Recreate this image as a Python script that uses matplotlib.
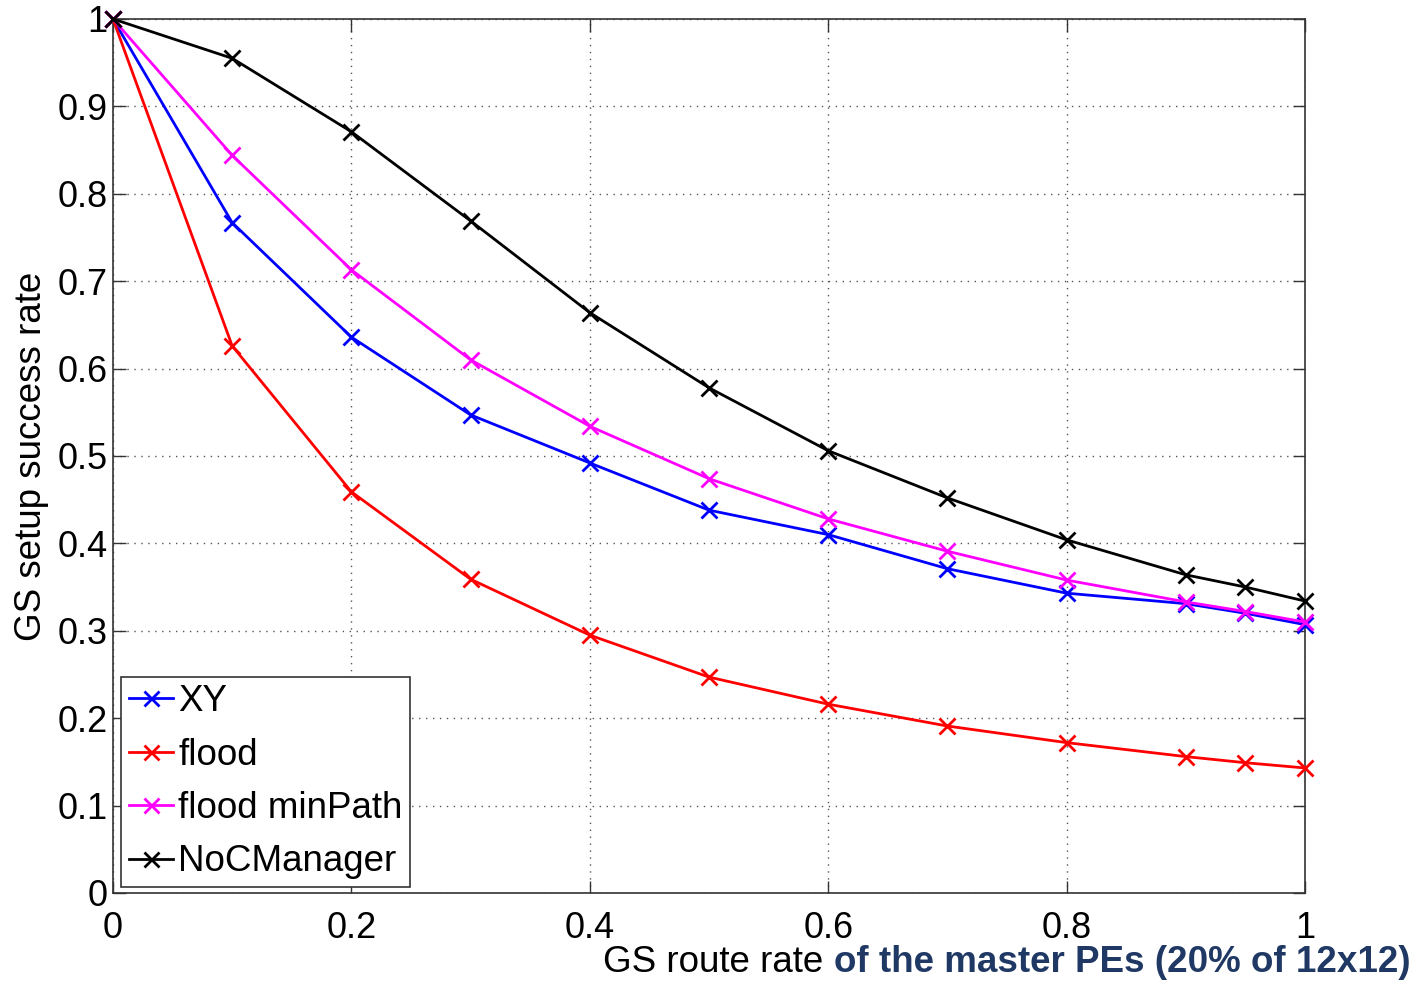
import matplotlib
matplotlib.use("Agg")
import matplotlib.pyplot as plt

# Route rate samples and setup success rates per routing scheme
route_rate = [0, 0.1, 0.2, 0.3, 0.4, 0.5, 0.6, 0.7, 0.8, 0.9, 0.95, 1.0]
xy_rate = [1.0, 0.767, 0.636, 0.547, 0.492, 0.438, 0.410, 0.371, 0.343, 0.331, 0.320, 0.307]
flood_rate = [1.0, 0.626, 0.459, 0.359, 0.295, 0.247, 0.216, 0.191, 0.172, 0.156, 0.149, 0.143]
flood_minpath_rate = [1.0, 0.844, 0.713, 0.610, 0.534, 0.474, 0.428, 0.391, 0.358, 0.333, 0.322, 0.310]
nocmanager_rate = [1.0, 0.955, 0.871, 0.769, 0.664, 0.578, 0.506, 0.452, 0.404, 0.364, 0.350, 0.334]

series_names = ["XY", "flood", "flood minPath", "NoCManager"]
series_colors = ["#0000ff", "#ff0000", "#ff00ff", "#000000"]

x_ticks = [0, 0.2, 0.4, 0.6, 0.8, 1]
x_tick_labels = ["0", "0.2", "0.4", "0.6", "0.8", "1"]
y_ticks = [0, 0.1, 0.2, 0.3, 0.4, 0.5, 0.6, 0.7, 0.8, 0.9, 1]
y_tick_labels = ["0", "0.1", "0.2", "0.3", "0.4", "0.5", "0.6", "0.7", "0.8", "0.9", "1"]

plt.rcParams["font.family"] = ["Liberation Sans", "DejaVu Sans"]

fig = plt.figure(figsize=(14.19, 9.83), dpi=100)
ax = fig.add_axes([0.0796, 0.0916, 0.8401, 0.8891])

for vals, name, col in zip([xy_rate, flood_rate, flood_minpath_rate, nocmanager_rate],
                           series_names, series_colors):
    ax.plot(route_rate, vals, color=col, lw=2, marker="x", markersize=12,
            markeredgewidth=2, label=name, clip_on=False, zorder=3)

ax.set_xlim(0, 1)
ax.set_ylim(0, 1)
ax.set_xticks(x_ticks)
ax.set_xticklabels(x_tick_labels)
ax.set_yticks(y_ticks)
ax.set_yticklabels(y_tick_labels)
ax.tick_params(direction="in", length=9, width=1, labelsize=26, top=True, right=True,
               color="#333333")
ax.tick_params(axis="x", pad=13)
ax.tick_params(axis="y", pad=4)
ax.grid(True, linestyle=(0, (1, 4)), color="#555555", linewidth=1)
for sp in ax.spines.values():
    sp.set_color("#333333")
    sp.set_linewidth(1.2)

ax.set_ylabel("GS setup success rate", fontsize=26.5, labelpad=6)

leg = ax.legend(loc="lower left", bbox_to_anchor=(0.007, 0.007), fontsize=26.5,
                frameon=True, fancybox=False, edgecolor="#333333", framealpha=1,
                handlelength=1.2, handletextpad=0.15, borderpad=0.2,
                labelspacing=0.5, borderaxespad=0.0, markerscale=0.9)
leg.get_frame().set_linewidth(1.2)

# Axis title in two styles, right aligned below the axes
fig.canvas.draw()
renderer = fig.canvas.get_renderer()
t2 = fig.text(0.994, 0.011, "of the master PEs (20% of 12x12)", ha="right", va="baseline",
              fontsize=26.5, fontweight="bold", color="#1f3864")
bb = t2.get_window_extent(renderer)
x_left = bb.x0 / fig.bbox.width
fig.text(x_left, 0.011, "GS route rate ", ha="right", va="baseline",
         fontsize=26.5, color="black")

fig.savefig("out.png", dpi=100)
